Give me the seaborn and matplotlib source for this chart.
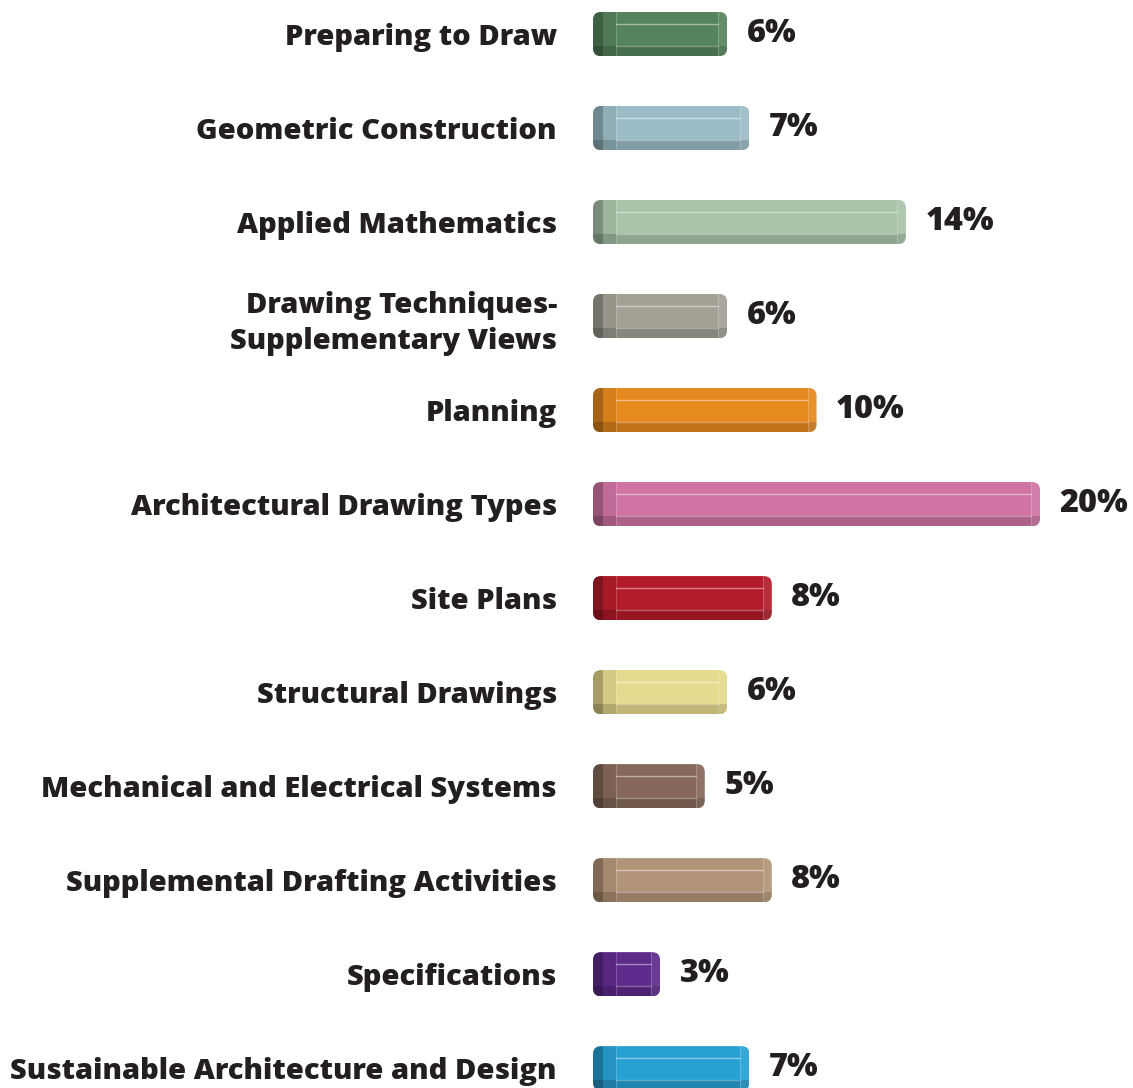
import matplotlib
matplotlib.use("Agg")
import matplotlib.pyplot as plt
import seaborn as sns
from matplotlib.patches import FancyBboxPatch, Rectangle
from matplotlib.lines import Line2D

categories = [
    "Preparing to Draw",
    "Geometric Construction",
    "Applied Mathematics",
    "Drawing Techniques-\nSupplementary Views",
    "Planning",
    "Architectural Drawing Types",
    "Site Plans",
    "Structural Drawings",
    "Mechanical and Electrical Systems",
    "Supplemental Drafting Activities",
    "Specifications",
    "Sustainable Architecture and Design",
]
values = [6, 7, 14, 6, 10, 20, 8, 6, 5, 8, 3, 7]
colors = [
    "#55845c", "#9bbcc6", "#a8c4aa", "#a3a195", "#e6891e", "#cf74a3",
    "#b31b2a", "#e6da8e", "#86695a", "#b29478", "#5e2a8c", "#27a0d4",
]

TEXT = "#231f20"
FONT = "Open Sans"

sns.set_style("white")
plt.rcParams["font.family"] = [FONT, "DejaVu Sans"]

W, H = 1133, 1088
fig = plt.figure(figsize=(W / 100, H / 100), dpi=100)
ax_left = 593 / W
ax = fig.add_axes([ax_left, 0, 1 - ax_left, 1])

sns.barplot(x=values, y=categories, hue=categories, palette=colors,
            orient="h", width=0.47, saturation=1, legend=False, ax=ax)

ax.set_xlim(0, 24.16)
ax.set_ylim(11.21, -0.362)
sns.despine(ax=ax, left=True, bottom=True)
ax.set_xticks([])
ax.set_xlabel("")
ax.set_ylabel("")
ax.tick_params(axis="y", length=0, pad=26)
for lbl in ax.get_yticklabels():
    lbl.set_fontweight(800)
    lbl.set_fontsize(21.0)
    lbl.set_color(TEXT)
    lbl.set_multialignment("right")
    lbl.set_linespacing(1.35)

for cont in ax.containers:
    ax.bar_label(cont, labels=[f"{v:g}%" for v in cont.datavalues],
                 padding=14, fontsize=23.3, fontweight=800, color=TEXT)

fig.canvas.draw()
bb = ax.get_window_extent()
x0l, x1l = ax.get_xlim()
y0l, y1l = ax.get_ylim()
ux = abs(x1l - x0l) / bb.width
uy = abs(y1l - y0l) / bb.height

for patch in list(ax.patches):
    x, y, w, h = patch.get_x(), patch.get_y(), patch.get_width(), patch.get_height()
    if w <= 0:
        continue
    rounded = FancyBboxPatch((x, y), w, h,
                             boxstyle=f"round,pad=0,rounding_size={8 * ux}",
                             mutation_aspect=uy / ux, fc="none", ec="none")
    ax.add_patch(rounded)
    patch.set_clip_path(rounded)
    patch.set_edgecolor("none")
    overlays = [
        Rectangle((x + 10 * ux, y), 13 * ux, h, fc="black", alpha=0.07, ec="none"),
        Rectangle((x, y + 0.76 * h), w, 0.24 * h, fc="black", alpha=0.16, ec="none"),
        Rectangle((x, y), 10 * ux, h, fc="black", alpha=0.28, ec="none"),
        Rectangle((x + w - 9 * ux, y), 9 * ux, h, fc="white", alpha=0.08, ec="none"),
    ]
    for ov in overlays:
        ax.add_patch(ov)
        ov.set_clip_path(rounded)
    for yy, a in [(y + 0.27 * h, 0.45), (y + 0.76 * h, 0.3)]:
        ln = Line2D([x + 23 * ux, x + w - 9 * ux], [yy, yy], color="white",
                    alpha=a, lw=1)
        ax.add_line(ln)
        ln.set_clip_path(rounded)
    for xx in (x + 23 * ux, x + w - 9 * ux):
        ln = Line2D([xx, xx], [y, y + h], color="white", alpha=0.2, lw=0.8)
        ax.add_line(ln)
        ln.set_clip_path(rounded)

fig.savefig("out.png", dpi=100)
